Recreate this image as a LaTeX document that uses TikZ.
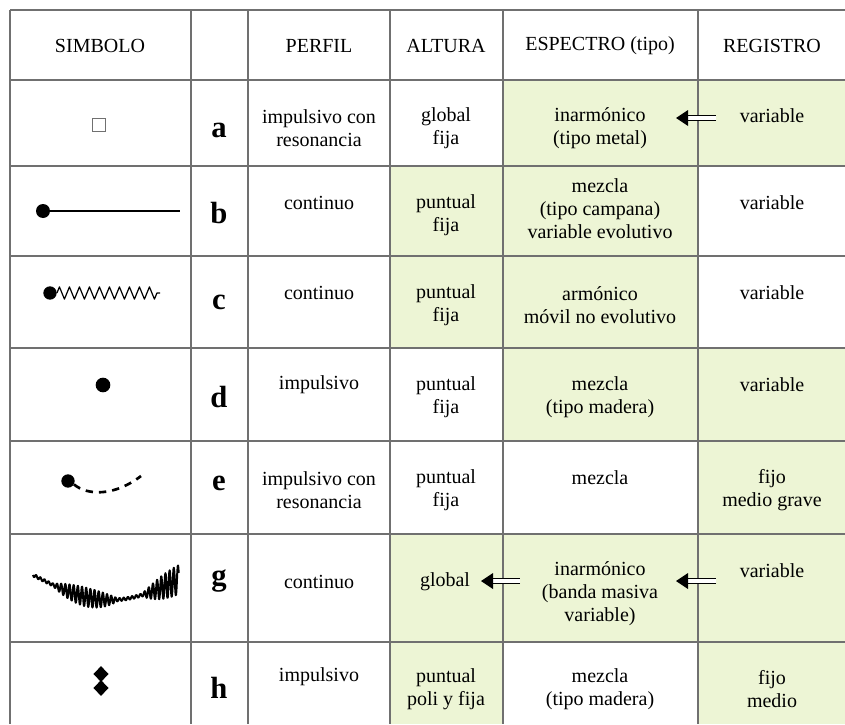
\documentclass[tikz,border=0pt]{standalone}
\usepackage{fontspec}
\setmainfont{Liberation Serif}
\usepackage{tikz}
\usetikzlibrary{arrows.meta, positioning, shapes.geometric, decorations.pathmorphing}
\definecolor{verdeClaro}{RGB}{237,245,213}
\definecolor{gris}{RGB}{112,112,112}

\begin{document}
\begin{tikzpicture}[x=0.75pt,y=-0.75pt]
    \tikzstyle{every node} = [font=\fontsize{15}{17.25}\selectfont, align=center, inner sep=0pt]
    \tikzstyle{letra} = [font=\fontsize{23}{25}\selectfont\bfseries]
    \tikzstyle{celda} = [fill=verdeClaro]
    \tikzstyle{rejilla} = [draw=gris, line width=1.1pt]
    \tikzstyle{punto} = [circle, fill=black, minimum size=10.5pt]
    \tikzstyle{rombo} = [diamond, fill=black, minimum width=11.5pt, minimum height=12pt]
    \tikzstyle{flecha} = [double distance=3.4pt, line width=0.9pt, shorten >=7pt]
    \clip (0,0) rectangle (845,724);

    % shaded cells
    \fill[celda] (503,80) rectangle (845,166);
    \fill[celda] (390,166) rectangle (698,348);
    \fill[celda] (503,348) rectangle (845,441);
    \fill[celda] (698,441) rectangle (845,534);
    \fill[celda] (390,534) rectangle (845,642);
    \fill[celda] (390,642) rectangle (503,724);
    \fill[celda] (698,642) rectangle (845,724);

    % grid
    \draw[rejilla] (10,10)--(845,10) (10,80)--(845,80) (10,166)--(845,166) (10,256)--(845,256)
    (10,348)--(845,348) (10,441)--(845,441) (10,534)--(845,534) (10,642)--(845,642);
    \draw[rejilla] (10,10)--(10,724) (191,10)--(191,724) (248,10)--(248,724) (390,10)--(390,724)
    (503,10)--(503,724) (698,10)--(698,724);

    % place nodes
    \node (hSimbolo) at (100,46) {SIMBOLO};
    \node (hPerfil) at (319,46) {PERFIL};
    \node (hAltura) at (446,46) {ALTURA};
    \node (hEspectro) at (600,46) {ESPECTRO (tipo)};
    \node (hRegistro) at (772,46) {REGISTRO};

    \node[letra] (letraA) at (219,130) {a};
    \node[letra] (letraB) at (219,213) {b};
    \node[letra] (letraC) at (219,302) {c};
    \node[letra] (letraD) at (219,397) {d};
    \node[letra] (letraE) at (219,483) {e};
    \node[letra] (letraG) at (219,581) {g};
    \node[letra] (letraH) at (219,688) {h};

    \node (perfilA) at (319,128) {impulsivo con\\resonancia};
    \node (alturaA) at (446,128) {global\\fija};
    \node (espectroA) at (600,128) {inarmónico\\(tipo metal)};
    \node (registroA) at (772,116) {variable};

    \node (perfilB) at (319,203) {continuo};
    \node (alturaB) at (446,215) {puntual\\fija};
    \node (espectroB) at (600,209) {mezcla\\(tipo campana)\\variable evolutivo};
    \node (registroB) at (772,203) {variable};

    \node (perfilC) at (319,293) {continuo};
    \node (alturaC) at (446,305) {puntual\\fija};
    \node (espectroC) at (600,305) {armónico\\móvil no evolutivo};
    \node (registroC) at (772,293) {variable};

    \node (perfilD) at (319,385) {impulsivo};
    \node (alturaD) at (446,397) {puntual\\fija};
    \node (espectroD) at (600,397) {mezcla\\(tipo madera)};
    \node (registroD) at (772,385) {variable};

    \node (perfilE) at (319,490) {impulsivo con\\resonancia};
    \node (alturaE) at (446,490) {puntual\\fija};
    \node (espectroE) at (600,478) {mezcla};
    \node (registroE) at (772,490) {fijo\\medio grave};

    \node (perfilG) at (319,582) {continuo};
    \node (alturaG) at (445,582) {global};
    \node (espectroG) at (600,594) {inarmónico\\(banda masiva\\variable)};
    \node (registroG) at (772,571) {variable};

    \node (perfilH) at (319,677) {impulsivo};
    \node (alturaH) at (446,689) {puntual\\poli y fija};
    \node (espectroH) at (600,689) {mezcla\\(tipo madera)};
    \node (registroH) at (772,689) {fijo\\medio};

    % symbols
    \node[draw=gris, line width=0.6pt, minimum size=9.5pt] (simA) at (99,125) {};
    \node[punto] (simB) at (43,211) {};
    \coordinate (finB) at (180,211);
    \draw[line width=1.1pt] (simB)--(finB);
    \node[punto, minimum size=10pt] (simC) at (50,293) {};
    \coordinate (finC) at (160,293);
    \draw[line width=0.9pt, line join=round, decorate, decoration={zigzag, segment length=7.5pt, amplitude=4.6pt}] (simC.east)--(finC);
    \node[punto, minimum size=11pt] (simD) at (103,385) {};
    \node[punto, minimum size=10pt] (simE) at (68,481) {};
    \coordinate (finE) at (141,476);
    \draw[line width=2pt, dash pattern=on 5.5pt off 4.5pt] (simE.-30) .. controls (88,496) and (115,496) .. (finE);
    \draw[line width=1.5pt, line join=round] plot[domain=0:1, samples=450, variable=\t]
    ({33+146*\t}, {575+25*sin(\t*170)+(1.5+8*max(0,1-((\t-0.36)/0.22)^2)+13*max(0,1-((\t-1)/0.25)^2))*sin(\t*12600)});
    \node[rombo] (simH1) at (101,674) {};
    \node[rombo] (simH2) at (101,688) {};

    % Connections
    \coordinate (colaA) at (716,118);
    \coordinate (puntaA) at (676,118);
    \coordinate (colaG1) at (520,581);
    \coordinate (puntaG1) at (481,581);
    \coordinate (colaG2) at (716,581);
    \coordinate (puntaG2) at (676,581);
    \draw[flecha] (colaA)--(puntaA);
    \fill (puntaA) -- ++(12,-8) -- ++(0,16) -- cycle;
    \draw[flecha] (colaG1)--(puntaG1);
    \fill (puntaG1) -- ++(12,-8) -- ++(0,16) -- cycle;
    \draw[flecha] (colaG2)--(puntaG2);
    \fill (puntaG2) -- ++(12,-8) -- ++(0,16) -- cycle;

  \end{tikzpicture}
\end{document}
